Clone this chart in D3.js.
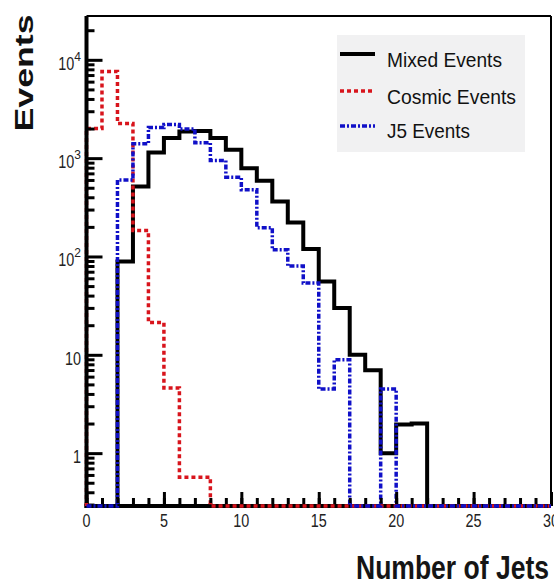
<!DOCTYPE html>
<html><head><meta charset="utf-8">
<script src="https://cdn.jsdelivr.net/npm/d3@7"></script>
<style>
html,body{margin:0;padding:0;background:#fff;}
svg{display:block;}
text{font-family:"Liberation Sans Narrow","Arial Narrow","Liberation Sans",Arial,sans-serif;}
</style></head>
<body>
<script>
// ---- data (30 bins, 0..29, unit width) ----
const binEdges = d3.range(0, 31);
const mixedEvents  = [0,0,89,514,1140,1600,1865,1890,1600,1214,790,590,362,221,119,55.7,29.9,10,6.95,1.0,1.95,2.0,0,0,0,0,0,0,0,0];
const cosmicEvents = [2000,7600,2250,184,21.3,4.6,0.57,0.57,0,0,0,0,0,0,0,0,0,0,0,0,0,0,0,0,0,0,0,0,0,0];
const j5Events     = [0,0,600,1400,2050,2200,1980,1430,945,640,477,196,117,80,53.7,4.5,8.9,0,0,4.5,0,0,0,0,0,0,0,0,0,0];
const seriesNames  = ["Mixed Events","Cosmic Events","J5 Events"];
const xTickMajor   = [0,5,10,15,20,25,30];
const yTickMajor   = [1,10,100,1000,10000];
const yTickBase    = ["1","10","10","10","10"];
const yTickExp     = ["","","2","3","4"];
const xTitle = "Number of Jets";
const yTitle = "Events";

const W = 554, H = 585;
const svg = d3.select("body").append("svg").attr("width", W).attr("height", H);

const x = d3.scaleLinear().domain([0, 30]).range([86.5, 551]);
const y = d3.scaleLog().domain([0.29, 27900]).range([506, 16]);
const yBottom = y.range()[0];

// frame (top & right thin)
svg.append("line").attr("x1", x(0)).attr("x2", x(30)).attr("y1", y.range()[1]).attr("y2", y.range()[1])
  .attr("stroke", "#000").attr("stroke-width", 2);
svg.append("line").attr("x1", x(30)).attr("x2", x(30)).attr("y1", y.range()[1]).attr("y2", yBottom)
  .attr("stroke", "#000").attr("stroke-width", 2);

// legend background
const lg = svg.append("g");
lg.append("rect").attr("x", 337).attr("y", 35).attr("width", 188).attr("height", 117).attr("fill", "#f1f1f2");

// histogram paths
function stepPoints(vals) {
  const pts = [[x(binEdges[0]), yBottom]];
  vals.forEach((v, i) => {
    const yy = v > 0 ? y(v) : yBottom;
    pts.push([x(binEdges[i]), yy]);
    pts.push([x(binEdges[i + 1]), yy]);
  });
  pts.push([x(binEdges[binEdges.length - 1]), yBottom]);
  return pts;
}
const line = d3.line();
const styles = [
  {data: mixedEvents,  color: "#000000", width: 4,   dash: null},
  {data: cosmicEvents, color: "#d8141c", width: 3.5, dash: "4,3"},
  {data: j5Events,     color: "#1010c8", width: 3.5, dash: "5,2,2,2"}
];
styles.forEach(s => {
  svg.append("path").attr("d", line(stepPoints(s.data)))
    .attr("fill", "none").attr("stroke", s.color).attr("stroke-width", s.width)
    .attr("stroke-dasharray", s.dash).attr("stroke-linejoin", "miter").attr("stroke-linecap", "butt");
});

// axes
const yMinorVals = [];
[0.1, 1, 10, 100, 1000, 10000].forEach(d => { for (let k = 2; k <= 9; k++) { const v = d * k; if (v >= 0.29 && v <= 27900) yMinorVals.push(v); } });
const yMinorAxis = d3.axisRight(y).tickValues(yMinorVals).tickSize(8).tickFormat("");
const yMajorAxis = d3.axisRight(y).tickValues(yTickMajor).tickSize(16).tickFormat("");
[yMinorAxis, yMajorAxis].forEach(a => {
  const g = svg.append("g").attr("transform", `translate(${x(0)},0)`).call(a);
  g.select(".domain").remove();
  g.selectAll(".tick line").attr("stroke", "#000").attr("stroke-width", 3);
});
const xMinorAxis = d3.axisTop(x).tickValues(d3.range(0, 31)).tickSize(8).tickFormat("");
const xMajorAxis = d3.axisTop(x).tickValues(xTickMajor).tickSize(14).tickFormat("");
[xMinorAxis, xMajorAxis].forEach(a => {
  const g = svg.append("g").attr("transform", `translate(0,${yBottom})`).call(a);
  g.select(".domain").remove();
  g.selectAll(".tick line").attr("stroke", "#000").attr("stroke-width", 3);
});
// axis lines (thick)
svg.append("line").attr("x1", x(0)).attr("x2", x(0)).attr("y1", y.range()[1]).attr("y2", yBottom + 2)
  .attr("stroke", "#000").attr("stroke-width", 4);
svg.append("line").attr("x1", x(0) - 2).attr("x2", x(30)).attr("y1", yBottom).attr("y2", yBottom)
  .attr("stroke", "#000").attr("stroke-width", 4);
// redraw bottom overlaps of histogram lines on top of axis
svg.append("clipPath").attr("id", "bot").append("rect")
  .attr("x", 0).attr("y", yBottom - 3).attr("width", W).attr("height", 6);
styles.slice(1).forEach(s => {
  svg.append("path").attr("d", line(stepPoints(s.data)))
    .attr("fill", "none").attr("stroke", s.color).attr("stroke-width", s.width)
    .attr("stroke-dasharray", s.dash).attr("clip-path", "url(#bot)");
});

// y tick labels
yTickMajor.forEach((v, i) => {
  const t = svg.append("text").attr("x", 81).attr("y", y(v) + 10).attr("text-anchor", "end")
    .attr("font-size", 19).attr("fill", "#222");
  t.append("tspan").attr("textLength", 8 * yTickBase[i].length).attr("lengthAdjust", "spacingAndGlyphs").text(yTickBase[i]);
  if (yTickExp[i]) t.append("tspan").attr("font-size", 12).attr("dy", -9).text(yTickExp[i]);
});
// x tick labels
xTickMajor.forEach(v => {
  svg.append("text").attr("x", x(v)).attr("y", 527).attr("text-anchor", "middle")
    .attr("font-size", 19).attr("fill", "#222")
    .attr("textLength", 8 * String(v).length).attr("lengthAdjust", "spacingAndGlyphs").text(v);
});

// titles
svg.append("text").attr("transform", "translate(33,73) rotate(-90)").attr("text-anchor", "middle")
  .attr("font-family", "Liberation Sans, Arial, sans-serif")
  .attr("font-weight", "bold").attr("font-size", 26).attr("textLength", 117).attr("lengthAdjust", "spacingAndGlyphs")
  .attr("fill", "#111").text(yTitle);
svg.append("text").attr("x", 549).attr("y", 579).attr("text-anchor", "end")
  .attr("font-size", 33).attr("font-weight", "bold").attr("textLength", 193).attr("lengthAdjust", "spacingAndGlyphs")
  .attr("fill", "#151515").text(xTitle);

// legend entries
const legY = [54, 91, 126];
const legText = [67, 104, 138];
const legLen = [115, 129, 83];
styles.forEach((s, i) => {
  lg.append("line").attr("x1", 340).attr("x2", 375).attr("y1", legY[i]).attr("y2", legY[i])
    .attr("stroke", s.color).attr("stroke-width", s.width).attr("stroke-dasharray", s.dash);
  lg.append("text").attr("x", 387).attr("y", legText[i]).attr("font-size", 21)
    .attr("textLength", legLen[i]).attr("lengthAdjust", "spacingAndGlyphs")
    .attr("fill", "#111").text(seriesNames[i]);
});
</script>
</body></html>
